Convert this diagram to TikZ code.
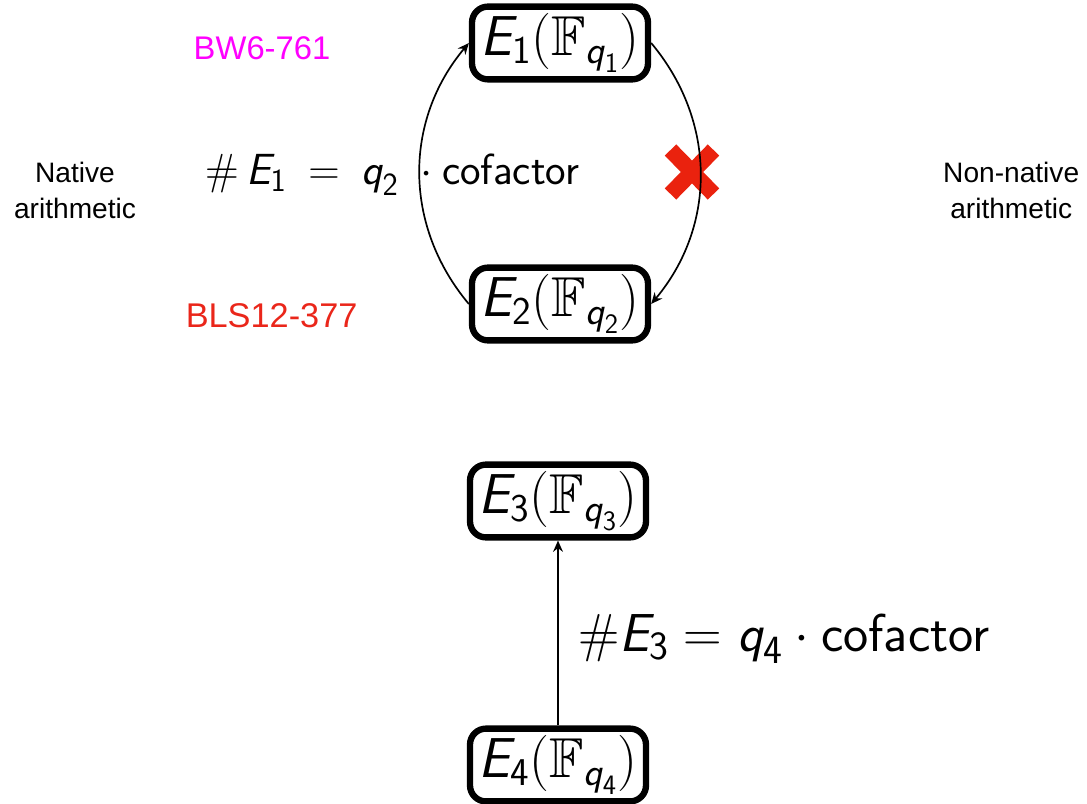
\RequirePackage{fix-cm}
\documentclass[tikz,border=0pt]{standalone}
\usepackage{amsmath,amssymb}
\usepackage{fontspec}
\newfontfamily\labelfont{Liberation Sans}
\usetikzlibrary{arrows.meta}

\definecolor{bwpink}{RGB}{255,0,255}
\definecolor{blsred}{RGB}{234,38,26}
\definecolor{crossred}{RGB}{234,34,14}

% bigger subscripts in the two orders
\DeclareMathSizes{31}{31}{23}{17}
\DeclareMathSizes{38}{38}{28.5}{21}

% sans italic letters, as in beamer math
\newcommand{\sv}[1]{\textsf{\itshape #1}}
\newcommand{\ecurve}[1]{$\sv{E}_{\textsf{#1}}(\mathbb{F}_{\sv{q}_{\textsf{#1}}})$}

\tikzset{
  curvebox/.style={draw, line width=4.5pt, rounded corners=0.4cm,
    minimum width=4.4cm, minimum height=1.82cm, inner sep=1pt,
    font=\fontsize{40}{46}\selectfont},
  arc/.style={line width=1.2pt, -{Stealth[length=8pt,width=7pt]}},
  side/.style={font=\labelfont\fontsize{20}{25.6}\selectfont, align=center},
  curvename/.style={anchor=base},
}

\begin{document}
\begin{tikzpicture}
      % \draw[very thin, gray, step=1cm] (0,-20.1) grid (27.175,0);
      \useasboundingbox (0,0) rectangle (27.175,-20.1);

      % the cycle E1 / E2
      \node[curvebox] (e1) at (14,-1.075) {\ecurve{1}};
      \node[curvebox] (e2) at (14,-7.6) {\ecurve{2}};
      \node[curvename, text=bwpink, font=\labelfont\fontsize{23.3}{27}\selectfont] (bw) at (6.55,-1.5) {BW6-761};
      \node[curvename, text=blsred, font=\labelfont\fontsize{24.4}{28}\selectfont] (bls) at (6.79,-8.175) {BLS12-377};

      \draw[crossred, line width=0.4cm] (16.7625,-3.75) -- (17.8375,-4.85);
      \draw[crossred, line width=0.4cm] (16.7625,-4.85) -- (17.8375,-3.75);

      \draw[arc] (e2.west) to[bend left=40] (e1.west);
      \draw[arc] (e1.east) to[bend left=40] (e2.east);

      % wider spacing so the arc runs between q_2 and the dot
      \node[anchor=base west, inner sep=0, font=\fontsize{31}{36}\selectfont] (ord1) at (5.125,-4.625)
        {$\thickmuskip=9mu\relax\#\,\sv{E}_{\textsf{1}} = \sv{q}_{\textsf{2}}\mskip5mu\cdot\textsf{cofactor}$};

      \node[side] (native) at (1.875,-4.76) {Native\\arithmetic};
      \node[side] (nonnative) at (25.28,-4.76) {Non-native\\arithmetic};

      % the pair E3 / E4
      \node[curvebox] (e3) at (13.95,-12.525) {\ecurve{3}};
      \node[curvebox] (e4) at (13.95,-19.125) {\ecurve{4}};
      \draw[arc] (e4.north) -- (e3.south);

      \node[anchor=base west, inner sep=0, font=\fontsize{38}{44}\selectfont] (ord3) at (14.45,-16.275)
        {$\#\sv{E}_{\textsf{3}} = \sv{q}_{\textsf{4}}\cdot\textsf{cofactor}$};
\end{tikzpicture}
\end{document}
